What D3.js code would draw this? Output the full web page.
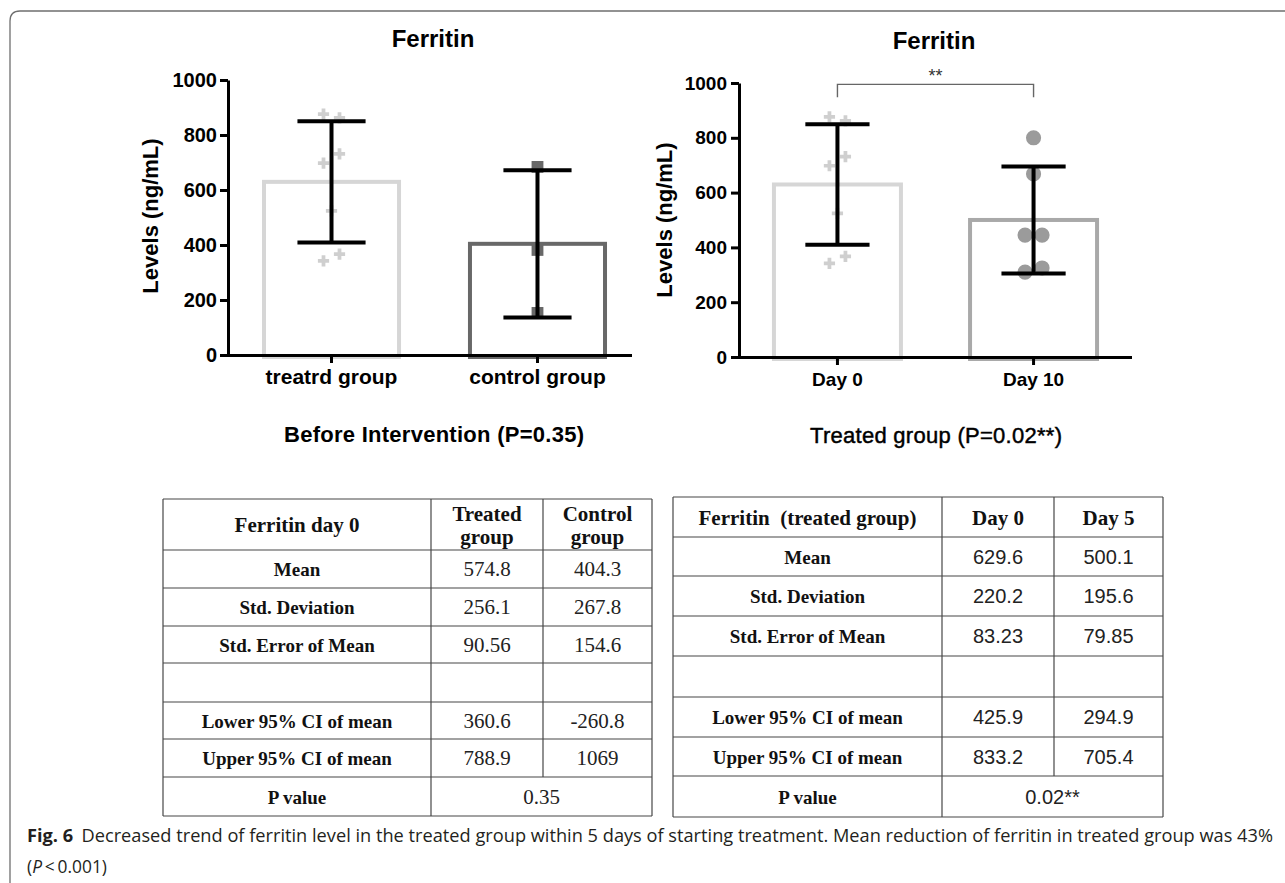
<!DOCTYPE html>
<html><head><meta charset="utf-8">
<script src="https://cdn.jsdelivr.net/npm/d3@7"></script>
<style>
html,body{margin:0;padding:0;background:#fff;}
svg{display:block;}
</style></head>
<body>
<svg id="fig" width="1285" height="883"></svg>
<script>
// ---------------- DATA ----------------
const yTicks = [0, 200, 400, 600, 800, 1000];

const categoriesBefore = ["treatrd group", "control group"];
const meansBefore = [629.6, 404.3];
const sdBefore = [220.2, 267.8];
const pointsTreatedDay0 = [876, 862, 698, 731, 524, 342, 367];
const pointsControl = [684, 382, 153];

const categoriesTreated = ["Day 0", "Day 10"];
const meansTreated = [629.6, 500.1];
const sdTreated = [220.2, 195.6];
const pointsDay10 = [800, 668, 445, 445, 310, 325];
const sigLabel = "**";

const titleLeft = "Ferritin", titleRight = "Ferritin";
const yLabel = "Levels (ng/mL)";
const subtitleLeft = "Before Intervention (P=0.35)";
const subtitleRight = "Treated group (P=0.02**)";

const table1Header = ["Ferritin day 0", "Treated|group", "Control|group"];
const table1Labels = ["Mean", "Std. Deviation", "Std. Error of Mean", "", "Lower 95% CI of mean", "Upper 95% CI of mean"];
const table1Col1 = ["574.8", "256.1", "90.56", "", "360.6", "788.9"];
const table1Col2 = ["404.3", "267.8", "154.6", "", "-260.8", "1069"];
const table1P = ["P value", "0.35"];

const table2Header = ["Ferritin  (treated group)", "Day 0", "Day 5"];
const table2Labels = ["Mean", "Std. Deviation", "Std. Error of Mean", "", "Lower 95% CI of mean", "Upper 95% CI of mean"];
const table2Col1 = ["629.6", "220.2", "83.23", "", "425.9", "833.2"];
const table2Col2 = ["500.1", "195.6", "79.85", "", "294.9", "705.4"];
const table2P = ["P value", "0.02**"];

const captionBold = "Fig. 6";
const captionText = "Decreased trend of ferritin level in the treated group within 5 days of starting treatment. Mean reduction of ferritin in treated group was 43%";

// ---------------- RENDER ----------------
const SANS = "'Liberation Sans', Arial, Helvetica, sans-serif";
const SERIF = "'Liberation Serif', 'Times New Roman', serif";
const svg = d3.select("#fig");

// outer frame (top + left with rounded corner)
svg.append("path")
  .attr("d", "M10,883 V21 Q10,11 20,11 H1285")
  .attr("fill", "none").attr("stroke", "#6f6f6f").attr("stroke-width", 1.3);

function dodge(values, y, minGap, spacing) {
  const offs = new Array(values.length).fill(0);
  let start = 0;
  for (let i = 1; i <= values.length; i++) {
    if (i === values.length || Math.abs(y(values[i]) - y(values[i - 1])) > minGap) {
      const n = i - start;
      for (let k = 0; k < n; k++) offs[start + k] = (k - (n - 1) / 2) * spacing;
      start = i;
    }
  }
  return offs;
}

function drawChart(c) {
  const g = svg.append("g");
  const x = d3.scaleBand().domain(c.categories).range([c.x0, c.bandEnd])
    .paddingInner(c.pi).paddingOuter(c.po);
  const y = d3.scaleLinear().domain([0, 1000]).range([c.yZero, c.yTop]);
  const bw = x.bandwidth();

  // bars
  g.selectAll("rect.bar").data(c.categories).join("rect")
    .attr("class", "bar")
    .attr("x", d => x(d) + 2)
    .attr("width", bw - 4)
    .attr("y", (d, i) => y(c.means[i]))
    .attr("height", (d, i) => y(0) - y(c.means[i]) + 2)
    .attr("fill", "#fff")
    .attr("stroke", (d, i) => c.barColors[i])
    .attr("stroke-width", 4);

  // points
  c.categories.forEach((cat, i) => {
    const vals = c.points[i];
    const offs = dodge(vals, y, 14, c.spacing[i]);
    const cx = x(cat) + bw / 2;
    g.selectAll(null).data(vals).join("path")
      .attr("transform", (v, j) => `translate(${cx + offs[j]},${y(v)})`)
      .attr("d", d3.symbol().type(c.symbols[i]).size(c.symSizes[i]))
      .attr("fill", c.pointColors[i]);
  });

  // error bars
  c.categories.forEach((cat, i) => {
    const cx = x(cat) + bw / 2;
    const hi = y(c.means[i] + c.sd[i]), lo = y(c.means[i] - c.sd[i]);
    const cw = bw * 0.49;
    g.append("path")
      .attr("d", `M${cx},${hi}V${lo}M${cx - cw / 2},${hi}H${cx + cw / 2}M${cx - cw / 2},${lo}H${cx + cw / 2}`)
      .attr("stroke", "#000").attr("stroke-width", 4).attr("fill", "none");
  });

  // y axis
  const gy = g.append("g").attr("transform", `translate(${c.x0},0)`)
    .call(d3.axisLeft(y).tickValues(yTicks).tickFormat(d3.format("d"))
      .tickSize(8).tickSizeOuter(0).tickPadding(c.yPad));
  gy.select(".domain").attr("stroke-width", 3);
  gy.selectAll(".tick line").attr("stroke-width", 3);
  gy.selectAll("text").attr("font-family", SANS).attr("font-weight", "bold")
    .attr("font-size", c.yFont).attr("fill", "#000");

  // x axis
  const gx = g.append("g").attr("transform", `translate(0,${c.yZero})`)
    .call(d3.axisBottom(x).tickSize(8).tickSizeOuter(0).tickPadding(c.xPad));
  gx.select(".domain").attr("d", `M${c.x0 - 1.5},0.5H${c.axisEnd}`).attr("stroke-width", 3);
  gx.selectAll(".tick line").attr("stroke-width", 3);
  gx.selectAll("text").attr("font-family", SANS).attr("font-weight", "bold")
    .attr("font-size", c.xFont).attr("fill", "#000");

  // title
  g.append("text").attr("x", c.titleX).attr("y", c.titleY).attr("text-anchor", "middle")
    .attr("font-family", SANS).attr("font-weight", "bold").attr("font-size", 24).text(c.title);

  // y label
  g.append("text").attr("transform", `translate(${c.ylabX},${c.ylabY}) rotate(-90)`)
    .attr("text-anchor", "middle").attr("font-family", SANS).attr("font-weight", "bold")
    .attr("font-size", 22).text(yLabel);

  if (c.sig) {
    const xa = x(c.categories[0]) + bw / 2, xb = x(c.categories[1]) + bw / 2;
    const yb = y(995), yd = y(948);
    g.append("path").attr("d", `M${xa},${yd}V${yb}H${xb}V${yd}`)
      .attr("fill", "none").attr("stroke", "#666").attr("stroke-width", 1.4);
    g.append("text").attr("x", (xa + xb) / 2).attr("y", yb - 2).attr("text-anchor", "middle")
      .attr("font-family", SANS).attr("font-size", 18).attr("fill", "#333").text(c.sig);
  }
  return g;
}

drawChart({
  categories: categoriesBefore, means: meansBefore, sd: sdBefore,
  points: [pointsTreatedDay0, pointsControl],
  symbols: [d3.symbolCross, d3.symbolSquare], symSizes: [70, 140],
  pointColors: ["#cfcfcf", "#686868"], barColors: ["#d6d6d6", "#686868"],
  spacing: [16, 16],
  x0: 228, bandEnd: 641, axisEnd: 632, pi: 0.325, po: 0.165,
  yZero: 355, yTop: 80, yPad: 3, xPad: 6, yFont: 20, xFont: 21,
  title: titleLeft, titleX: 433, titleY: 47, ylabX: 158, ylabY: 216
});

drawChart({
  categories: categoriesTreated, means: meansTreated, sd: sdTreated,
  points: [pointsTreatedDay0, pointsDay10],
  symbols: [d3.symbolCross, d3.symbolCircle], symSizes: [70, 180],
  pointColors: ["#cfcfcf", "#9b9b9b"], barColors: ["#d6d6d6", "#a9a9a9"],
  spacing: [16, 17],
  x0: 739, bandEnd: 1132, axisEnd: 1132, pi: 0.332, po: 0.168,
  yZero: 357, yTop: 83, yPad: 4, xPad: 7.5, yFont: 19, xFont: 19,
  title: titleRight, titleX: 934, titleY: 49, ylabX: 672, ylabY: 220,
  sig: sigLabel
});

// subtitles
svg.append("text").attr("x", 434).attr("y", 442).attr("text-anchor", "middle")
  .attr("font-family", SANS).attr("font-weight", "bold").attr("font-size", 22)
  .attr("textLength", 300).attr("lengthAdjust", "spacing").text(subtitleLeft);
svg.append("text").attr("x", 936).attr("y", 443).attr("text-anchor", "middle")
  .attr("font-family", SANS).attr("font-size", 22)
  .attr("stroke", "#000").attr("stroke-width", 0.45)
  .attr("textLength", 252).attr("lengthAdjust", "spacing").text(subtitleRight);

// tables
function drawTable(t) {
  const g = svg.append("g");
  const [c0, c1, c2, c3] = t.cols;
  const r = t.rows;
  const line = (x1, y1, x2, y2) => g.append("line").attr("x1", x1).attr("y1", y1).attr("x2", x2).attr("y2", y2)
    .attr("stroke", "#474747").attr("stroke-width", 1.2);
  r.forEach(yy => line(c0, yy, c3, yy));
  line(c0, r[0], c0, r[r.length - 1]);
  line(c3, r[0], c3, r[r.length - 1]);
  line(c1, r[0], c1, r[r.length - 1]);
  line(c2, r[0], c2, r[r.length - 2]);

  const mid = (a, b) => (a + b) / 2;
  // header
  const hc = mid(r[0], r[1]);
  const centers = [mid(c0, c1), mid(c1, c2), mid(c2, c3)];
  t.header.forEach((h, i) => {
    const parts = h.split("|");
    const txt = g.append("text").attr("text-anchor", "middle").style("white-space", "pre")
      .attr("font-family", SERIF).attr("font-weight", "bold").attr("font-size", 21).attr("fill", "#111");
    if (parts.length === 1) {
      txt.attr("x", centers[i]).attr("y", hc + 7.5).text(parts[0]);
    } else {
      parts.forEach((p, k) => txt.append("tspan").attr("x", centers[i])
        .attr("y", hc + 7.5 + (k - 0.5) * 23).text(p));
    }
  });
  // body
  t.labels.forEach((lab, i) => {
    const cy = mid(r[i + 1], r[i + 2]) + 7;
    g.append("text").attr("x", centers[0]).attr("y", cy).attr("text-anchor", "middle")
      .attr("font-family", SERIF).attr("font-weight", "bold").attr("font-size", 19).attr("fill", "#111").text(lab);
    [t.col1[i], t.col2[i]].forEach((v, k) => g.append("text").attr("x", centers[k + 1]).attr("y", cy)
      .attr("text-anchor", "middle").attr("font-family", t.valFont).attr("font-size", t.valSize)
      .attr("fill", "#222").text(v));
  });
  const n = r.length;
  const py = mid(r[n - 2], r[n - 1]) + 7;
  g.append("text").attr("x", centers[0]).attr("y", py).attr("text-anchor", "middle")
    .attr("font-family", SERIF).attr("font-weight", "bold").attr("font-size", 19).attr("fill", "#111").text(t.p[0]);
  g.append("text").attr("x", mid(c1, c3)).attr("y", py).attr("text-anchor", "middle")
    .attr("font-family", t.valFont).attr("font-size", t.valSize).attr("fill", "#222").text(t.p[1]);
}

drawTable({
  cols: [163, 431, 543, 652],
  rows: [499, 550, 588, 626, 663, 702, 739, 777, 816],
  header: table1Header, labels: table1Labels, col1: table1Col1, col2: table1Col2, p: table1P,
  valFont: SERIF, valSize: 21
});
drawTable({
  cols: [673, 942, 1054, 1163],
  rows: [497, 537, 576, 616, 656, 697, 737, 776, 817],
  header: table2Header, labels: table2Labels, col1: table2Col1, col2: table2Col2, p: table2P,
  valFont: SANS, valSize: 20
});

// caption
const cap = svg.append("text").attr("x", 27).attr("y", 842)
  .attr("font-family", "'Open Sans', 'Noto Sans', sans-serif").attr("font-size", 17.5).attr("fill", "#231f20");
cap.append("tspan").attr("font-weight", "bold").text(captionBold);
cap.append("tspan").attr("dx", 8).text(captionText);
cap.attr("textLength", 1246).attr("lengthAdjust", "spacingAndGlyphs");

const cap2 = svg.append("text").attr("x", 27).attr("y", 873)
  .attr("font-family", "'Open Sans', 'Noto Sans', sans-serif").attr("font-size", 17.5).attr("fill", "#231f20")
  .attr("textLength", 80).attr("lengthAdjust", "spacingAndGlyphs");
cap2.append("tspan").text("(");
cap2.append("tspan").attr("font-style", "italic").text("P");
cap2.append("tspan").text("\u2009<\u20090.001)");
</script>
</body></html>
